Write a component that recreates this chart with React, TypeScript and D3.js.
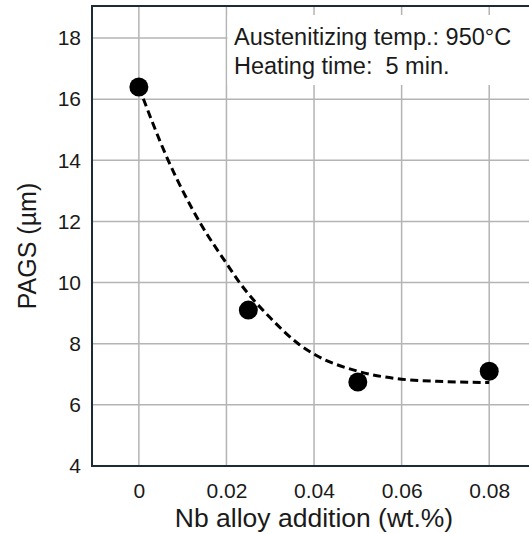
import React, { useEffect, useRef } from "react";
import * as d3 from "d3";

// measured data points
const nbAddition = [0, 0.025, 0.05, 0.08];
const pagsValues = [16.4, 9.1, 6.75, 7.1];

// dashed trend line
const fitNb = [0, 0.0067, 0.0138, 0.02, 0.023, 0.03, 0.0364, 0.04, 0.05, 0.06, 0.07, 0.08];
const fitPags = [16.4, 14, 12, 10.63, 10, 8.85, 8, 7.66, 7.1, 6.84, 6.76, 6.73];

const xTicks = [0, 0.02, 0.04, 0.06, 0.08];
const yTicks = [4, 6, 8, 10, 12, 14, 16, 18];
const noteLines = ["Austenitizing temp.: 950°C", "Heating time:  5 min."];

const App = () => {
  const svgRef = useRef<SVGSVGElement>(null);

  useEffect(() => {
    const width = 529;
    const height = 534;
    const left = 92;
    const right = 533; // right frame sits just outside the window
    const top = 6;
    const bottom = 466;
    const font = "'Liberation Sans', Arial, sans-serif";
    const frameColor = "#1c2b3a";
    const gridColor = "#b4b4b4";

    const x = d3.scaleLinear().domain([-0.0107, 0.09]).range([left, right]);
    const y = d3.scaleLinear().domain([4, 19.05]).range([bottom, top]);

    const svg = d3.select(svgRef.current);
    svg.selectAll("*").remove();
    svg.attr("width", width).attr("height", height);

    // grid
    const grid = svg.append("g");
    grid
      .selectAll("line.v")
      .data(xTicks)
      .join("line")
      .attr("x1", (d) => x(d))
      .attr("x2", (d) => x(d))
      .attr("y1", top)
      .attr("y2", bottom)
      .attr("stroke", gridColor)
      .attr("stroke-width", 1.5);
    grid
      .selectAll("line.h")
      .data(yTicks.filter((d) => d > 4))
      .join("line")
      .attr("class", "h")
      .attr("x1", left)
      .attr("x2", right)
      .attr("y1", (d) => y(d))
      .attr("y2", (d) => y(d))
      .attr("stroke", gridColor)
      .attr("stroke-width", 1.5);

    // white box behind the annotation
    svg
      .append("rect")
      .attr("x", x(0.02) + 1)
      .attr("y", 15)
      .attr("width", right - x(0.02))
      .attr("height", 70)
      .attr("fill", "#fff");

    const note = svg
      .append("text")
      .attr("font-family", font)
      .attr("font-size", 23.5)
      .attr("fill", "#1a1a1a");
    noteLines.forEach((t, i) => {
      note
        .append("tspan")
        .attr("x", 234)
        .attr("y", 45 + i * 29)
        .style("white-space", "pre")
        .text(t);
    });

    // frame
    svg
      .append("rect")
      .attr("x", left)
      .attr("y", top)
      .attr("width", right - left)
      .attr("height", bottom - top)
      .attr("fill", "none")
      .attr("stroke", frameColor)
      .attr("stroke-width", 2);

    // axes
    const xAxis = svg
      .append("g")
      .attr("transform", `translate(0,${bottom})`)
      .call(
        d3
          .axisBottom(x)
          .tickValues(xTicks)
          .tickSize(0)
          .tickFormat((d) => (+d === 0 ? "0" : d3.format(".2f")(+d)))
      );
    xAxis.select(".domain").remove();
    xAxis
      .selectAll("text")
      .attr("font-family", font)
      .attr("font-size", 21)
      .attr("fill", "#1a1a1a")
      .attr("dy", null)
      .attr("y", 32);

    const yAxis = svg
      .append("g")
      .attr("transform", `translate(${left},0)`)
      .call(d3.axisLeft(y).tickValues(yTicks).tickSize(0).tickPadding(11));
    yAxis.select(".domain").remove();
    yAxis
      .selectAll("text")
      .attr("font-family", font)
      .attr("font-size", 21)
      .attr("fill", "#1a1a1a");

    // axis titles
    svg
      .append("text")
      .attr("x", 314)
      .attr("y", 527)
      .attr("text-anchor", "middle")
      .attr("font-family", font)
      .attr("font-size", 26.5)
      .attr("fill", "#1a1a1a")
      .text("Nb alloy addition (wt.%)");

    svg
      .append("text")
      .attr("transform", "translate(36,246) rotate(-90)")
      .attr("text-anchor", "middle")
      .attr("font-family", font)
      .attr("font-size", 25)
      .attr("fill", "#1a1a1a")
      .text("PAGS (µm)");

    // trend line
    const line = d3
      .line<number>()
      .x((d) => x(d))
      .y((_, i) => y(fitPags[i]))
      .curve(d3.curveMonotoneX);
    svg
      .append("path")
      .attr("d", line(fitNb))
      .attr("fill", "none")
      .attr("stroke", "#000")
      .attr("stroke-width", 3)
      .attr("stroke-dasharray", "8,4.5");

    // points
    svg
      .selectAll("circle")
      .data(nbAddition)
      .join("circle")
      .attr("cx", (d) => x(d))
      .attr("cy", (_, i) => y(pagsValues[i]))
      .attr("r", 9.5)
      .attr("fill", "#000");
  }, []);

  return (
    <div style={{ position: "absolute", left: 0, top: 0 }}>
      <svg ref={svgRef} style={{ display: "block" }} />
    </div>
  );
};

export default App;
